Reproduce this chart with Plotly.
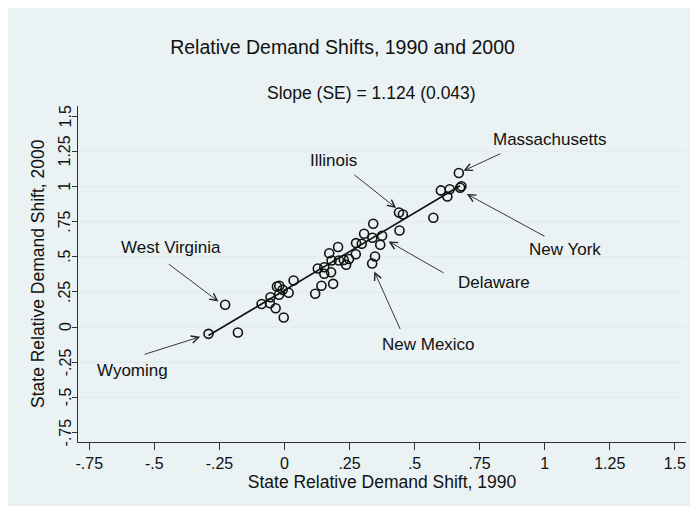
import plotly.graph_objects as go

# ---- data ----
shift_1990 = [-0.292, -0.228, -0.179, -0.088, -0.054, -0.056, -0.034, -0.003, -0.029, -0.020,
              -0.021, -0.007, 0.016, 0.035, 0.118, 0.142, 0.187, 0.128, 0.153, 0.153,
              0.179, 0.172, 0.206, 0.181, 0.209, 0.228, 0.237, 0.248, 0.274, 0.275,
              0.297, 0.306, 0.341, 0.338, 0.375, 0.368, 0.348, 0.337, 0.440, 0.455,
              0.442, 0.572, 0.601, 0.635, 0.626, 0.670, 0.680, 0.675]
shift_2000 = [-0.048, 0.159, -0.038, 0.164, 0.212, 0.170, 0.134, 0.068, 0.289, 0.294,
              0.230, 0.266, 0.244, 0.332, 0.237, 0.294, 0.308, 0.417, 0.426, 0.380,
              0.390, 0.526, 0.570, 0.474, 0.474, 0.478, 0.444, 0.485, 0.519, 0.598,
              0.593, 0.665, 0.736, 0.636, 0.650, 0.586, 0.503, 0.453, 0.816, 0.802,
              0.688, 0.778, 0.973, 0.981, 0.930, 1.097, 1.003, 0.992]

fit_x = [-0.292, 0.675]
fit_y = [-0.060, 1.006]

label_names = ["West Virginia", "Wyoming", "Illinois", "Massachusetts", "New York", "Delaware", "New Mexico"]
label_x = [-0.438, -0.583, 0.187, 1.020, 1.078, 0.806, 0.552]
label_y = [0.565, -0.311, 1.185, 1.334, 0.551, 0.316, -0.126]
arrow_tail_x = [-0.450, -0.543, 0.263, 0.835, 1.005, 0.617, 0.447]
arrow_tail_y = [0.456, -0.197, 1.092, 1.239, 0.641, 0.380, -0.024]
arrow_head_x = [-0.254, -0.324, 0.429, 0.688, 0.701, 0.400, 0.345]
arrow_head_y = [0.182, -0.069, 0.848, 1.113, 0.947, 0.610, 0.396]

tick_vals = [-0.75, -0.5, -0.25, 0, 0.25, 0.5, 0.75, 1, 1.25, 1.5]
tick_text = ["-.75", "-.5", "-.25", "0", ".25", ".5", ".75", "1", "1.25", "1.5"]
grid_vals = [-0.5, -0.25, 0, 0.25, 0.5, 0.75, 1, 1.25]

title_text = "Relative Demand Shifts, 1990 and 2000"
subtitle_text = "Slope (SE) = 1.124 (0.043)"
x_title = "State Relative Demand Shift, 1990"
y_title = "State Relative Demand Shift, 2000"

# ---- styling ----
FONT = "Liberation Sans, Arial, sans-serif"
BG = "#EAF2F3"
GRID = "#E3ECEF"
AX = "#333333"
TXT = "#111111"
XR = [-0.7935, 1.543]
YR = [-0.818, 1.574]

W, H = 690, 506
ML, MR, MT, MB = 78, 4, 106, 64
PW, PH = W - ML - MR, H - MT - MB

fig = go.Figure()

fig.add_trace(go.Scatter(
    x=shift_1990, y=shift_2000, mode="markers",
    marker=dict(symbol="circle-open", size=9, color=TXT, line=dict(width=1.6)),
    showlegend=False, hoverinfo="skip"))

fig.add_trace(go.Scatter(
    x=fit_x, y=fit_y, mode="lines",
    line=dict(color=TXT, width=1.6),
    showlegend=False, hoverinfo="skip"))

shapes = [
    dict(type="rect", xref="paper", yref="paper",
         x0=(8 - ML) / PW, x1=(W - ML) / PW,
         y0=(H - MB - H) / PH, y1=(H - MB - 8) / PH,
         fillcolor=BG, line=dict(width=0), layer="below"),
]
for g in grid_vals:
    shapes.append(dict(type="line", xref="x", x0=XR[0], x1=XR[1], yref="y", y0=g, y1=g,
                       line=dict(color=GRID, width=1.5), layer="below"))

annotations = []
for i in range(len(label_names)):
    annotations.append(dict(
        x=arrow_head_x[i], y=arrow_head_y[i], xref="x", yref="y",
        ax=arrow_tail_x[i], ay=arrow_tail_y[i], axref="x", ayref="y",
        text="", showarrow=True, arrowhead=5, arrowsize=1.6, arrowwidth=0.9,
        arrowcolor="#222222", standoff=0, startstandoff=0))
    annotations.append(dict(
        x=label_x[i], y=label_y[i], xref="x", yref="y",
        text=label_names[i], showarrow=False,
        font=dict(family=FONT, size=17, color=TXT),
        xanchor="center", yanchor="middle"))

# y tick labels (rotated, close to the axis)
for v, t in zip(tick_vals, tick_text):
    annotations.append(dict(
        x=(65 - ML) / PW, y=v, xref="paper", yref="y", text=t, textangle=-90,
        showarrow=False, xanchor="center", yanchor="middle",
        font=dict(family=FONT, size=16, color=TXT)))

# y axis title
annotations.append(dict(
    x=(38 - ML) / PW, y=0.5, xref="paper", yref="paper", text=y_title, textangle=-90,
    showarrow=False, xanchor="center", yanchor="middle",
    font=dict(family=FONT, size=17.5, color=TXT)))

annotations.append(dict(
    x=(371 - ML) / PW, y=(H - MB - 93) / PH, xref="paper", yref="paper", text=subtitle_text,
    showarrow=False, xanchor="center", yanchor="middle",
    font=dict(family=FONT, size=17.5, color=TXT)))

fig.update_layout(
    width=W, height=H,
    margin=dict(l=ML, r=MR, t=MT, b=MB, autoexpand=False),
    paper_bgcolor="white", plot_bgcolor="white",
    title=dict(text=title_text, x=342.5 / W, xanchor="center", y=1 - 47 / H, yanchor="middle",
               font=dict(family=FONT, size=19.5, color=TXT)),
    shapes=shapes, annotations=annotations,
    xaxis=dict(range=XR, tickvals=tick_vals, ticktext=tick_text,
               showgrid=False, zeroline=False, showline=True, linecolor=AX, linewidth=1.3,
               ticks="outside", ticklen=7, tickcolor=AX, tickwidth=1.2,
               tickfont=dict(family=FONT, size=16, color=TXT),
               title=dict(text=x_title, standoff=0, font=dict(family=FONT, size=17.5, color=TXT))),
    yaxis=dict(range=YR, tickvals=tick_vals, showticklabels=False,
               showgrid=False, zeroline=False, showline=True, linecolor=AX, linewidth=1.3,
               ticks="outside", ticklen=5, tickcolor=AX, tickwidth=1.2),
)

fig.write_html("out.html", config={"displayModeBar": False},
               post_script="document.body.style.margin='0';document.body.style.overflow='hidden';")
